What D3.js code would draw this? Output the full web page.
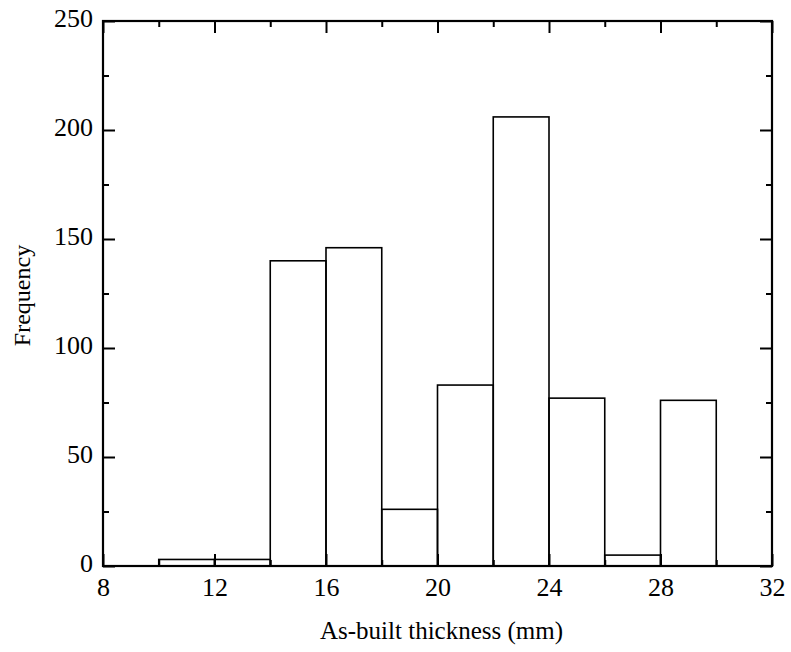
<!DOCTYPE html>
<html>
<head>
<meta charset="utf-8">
<script src="https://cdn.jsdelivr.net/npm/d3@7"></script>
<style>
  body { margin: 0; background: #fff; }
</style>
</head>
<body>
<div id="chart"></div>
<script>
// histogram bins (mm) and counts
var binStarts = [10, 12, 14, 16, 18, 20, 22, 24, 26, 28];
var binWidth = 2;
var counts = [3, 3, 140, 146, 26, 83, 206, 77, 5, 76];
var xTicks = [8, 12, 16, 20, 24, 28, 32];
var yTicks = [0, 50, 100, 150, 200, 250];

var serif = "Liberation Serif";

var margin = {top: 21, right: 19, bottom: 86, left: 103},
    width = 791 - margin.left - margin.right,
    height = 652 - margin.top - margin.bottom;

var svg = d3.select("#chart")
  .append("svg")
    .attr("width", 791)
    .attr("height", 652)
  .append("g")
    .attr("transform", "translate(" + margin.left + "," + margin.top + ")");

var x = d3.scaleLinear().domain([8, 32]).range([0, width]);
var y = d3.scaleLinear().domain([0, 250]).range([height, 0]);

// bars
svg.selectAll(".bar")
  .data(binStarts)
  .enter().append("rect")
    .attr("class", "bar")
    .attr("x", function(d) { return x(d); })
    .attr("width", function(d) { return x(d + binWidth) - x(d); })
    .attr("y", function(d, i) { return y(counts[i]); })
    .attr("height", function(d, i) { return height - y(counts[i]); })
    .attr("fill", "none")
    .attr("stroke", "#000")
    .attr("stroke-width", 1.6);

// minor ticks (every 2 mm / 25 counts), drawn inward on all sides
var xMinor = d3.range(8, 32.01, 2).filter(function(v) { return xTicks.indexOf(v) < 0; });
var yMinor = d3.range(0, 250.1, 25).filter(function(v) { return yTicks.indexOf(v) < 0; });

function styleAxis(g) {
  g.attr("font-family", serif);
  g.select(".domain").remove();
  g.selectAll(".tick line").attr("stroke", "#000").attr("stroke-width", 2);
  g.selectAll("text").attr("font-size", 26).attr("fill", "#000");
}

// bottom
svg.append("g")
  .attr("transform", "translate(0," + height + ")")
  .call(d3.axisBottom(x).tickValues(xTicks).tickSize(-12).tickPadding(12).tickFormat(d3.format("d")))
  .call(styleAxis);
svg.append("g")
  .attr("transform", "translate(0," + height + ")")
  .call(d3.axisBottom(x).tickValues(xMinor).tickSize(-6).tickFormat(""))
  .call(styleAxis);
// top
svg.append("g")
  .call(d3.axisTop(x).tickValues(xTicks).tickSize(-12).tickFormat(""))
  .call(styleAxis);
svg.append("g")
  .call(d3.axisTop(x).tickValues(xMinor).tickSize(-6).tickFormat(""))
  .call(styleAxis);
// left
svg.append("g")
  .call(d3.axisLeft(y).tickValues(yTicks).tickSize(-12).tickPadding(10))
  .call(styleAxis)
  .call(function(g) { g.selectAll("text").attr("dy", "0.2em"); });
svg.append("g")
  .call(d3.axisLeft(y).tickValues(yMinor).tickSize(-6).tickFormat(""))
  .call(styleAxis);
// right
svg.append("g")
  .attr("transform", "translate(" + width + ",0)")
  .call(d3.axisRight(y).tickValues(yTicks).tickSize(-12).tickFormat(""))
  .call(styleAxis);
svg.append("g")
  .attr("transform", "translate(" + width + ",0)")
  .call(d3.axisRight(y).tickValues(yMinor).tickSize(-6).tickFormat(""))
  .call(styleAxis);

// frame
svg.append("rect")
  .attr("width", width)
  .attr("height", height)
  .attr("fill", "none")
  .attr("stroke", "#000")
  .attr("stroke-width", 2.2);

// axis labels
svg.append("text")
  .attr("x", width / 2 + 4)
  .attr("y", height + 73)
  .attr("font-family", serif)
  .attr("font-size", 25)
  .style("text-anchor", "middle")
  .text("As-built thickness (mm)");

svg.append("text")
  .attr("transform", "rotate(-90)")
  .attr("x", -height / 2 - 2)
  .attr("y", -73)
  .attr("font-family", serif)
  .attr("font-size", 24)
  .style("text-anchor", "middle")
  .text("Frequency");
</script>
</body>
</html>
